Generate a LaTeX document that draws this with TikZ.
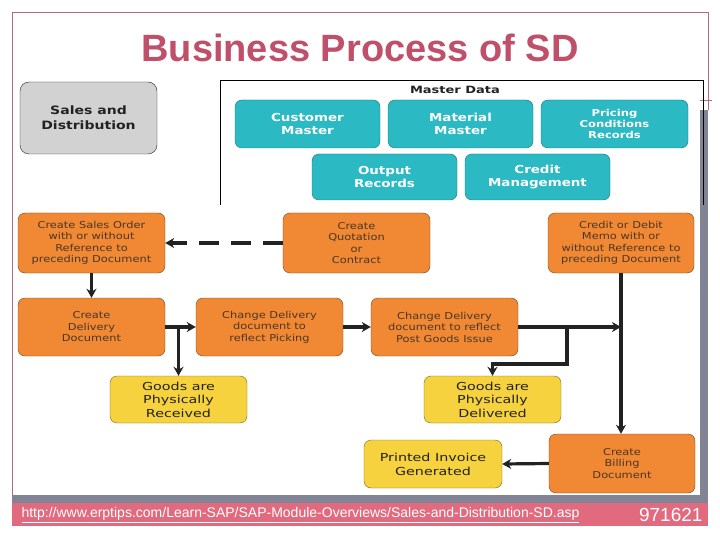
\documentclass[tikz,border=0pt]{standalone}
\usepackage{fontspec}
\setmainfont{DejaVu Sans}
\newfontfamily\arialfont{Liberation Sans}
\newfontfamily\procfont[FakeStretch=1.2]{DejaVu Sans}
\newfontfamily\masterfont[FakeStretch=1.22]{DejaVu Sans}
\newfontfamily\resultfont[FakeStretch=1.3]{DejaVu Sans}
\usetikzlibrary{calc}
\usetikzlibrary{arrows.meta}
\usepackage{xcolor}
\definecolor{sdrose}{RGB}{192,80,105}
\definecolor{sdpink}{RGB}{226,106,126}
\definecolor{sdframe}{RGB}{170,110,130}
\definecolor{sdgray}{RGB}{128,132,148}
\definecolor{sdteal}{RGB}{43,186,196}
\definecolor{sdorange}{RGB}{240,136,52}
\definecolor{sdyellow}{RGB}{246,210,62}
\definecolor{sdbox}{RGB}{210,210,210}
\definecolor{sdink}{RGB}{34,34,34}

\begin{document}
\begin{tikzpicture}[x=1pt, y=-1pt,
  master/.style={draw=sdteal!60!black, fill=sdteal, rounded corners=7pt, minimum width=145pt, minimum height=48pt, align=center, text=white, font=\masterfont\bfseries\fontsize{11}{12.5}\selectfont},
  proc/.style={draw=sdorange!50!black, fill=sdorange, rounded corners=7pt, minimum width=147pt, minimum height=59pt, align=center, text=sdink!80!sdorange, font=\procfont\fontsize{9.5}{11.5}\selectfont},
  result/.style={draw=sdyellow!50!black, fill=sdyellow, rounded corners=7pt, minimum width=137pt, minimum height=47pt, align=center, text=sdink, font=\resultfont\fontsize{11}{13.5}\selectfont},
  flow/.style={sdink, line width=3.2pt, >={Stealth[length=9pt, width=10pt]}}]
\useasboundingbox (0,0) rectangle (720,540);
\fill[white] (0,0) rectangle (720,540);
\draw[sdframe, thin] (12,497) -- (12,12) -- (708,12) -- (708,110);
\draw[sdframe, thin] (700,100) -- (712,100);
\fill[sdgray] (700,110) rectangle (708,503);
\fill[sdgray] (12,495) rectangle (708,503);
\fill[sdpink] (12,503) rectangle (708,526);
\node[text=sdrose, font=\arialfont\bfseries\fontsize{38}{40}\selectfont] (title) at (360,48) {Business Process of SD};
\node[draw=sdink, fill=sdbox, rounded corners=9pt, minimum width=137pt, minimum height=72pt, align=center, font=\masterfont\bfseries\fontsize{11.5}{15}\selectfont, text=sdink] (sd) at (88.5,118) {Sales and\\Distribution};
\draw[black, thin] (220,205) |- (703,80) -- (703,205);
\node[font=\resultfont\bfseries\fontsize{10}{11}\selectfont, text=sdink] (mdata) at (455,90) {Master Data};
\node[master] (cust) at (307.5,124) {Customer\\Master};
\node[master] (mat) at (460.5,124) {Material\\Master};
\node[master, minimum width=147pt, font=\masterfont\bfseries\fontsize{9.5}{11}\selectfont] (pric) at (614.5,124) {Pricing\\Conditions\\Records};
\node[master, minimum height=46pt] (outp) at (384.5,177) {Output\\Records};
\node[master, minimum height=46pt] (cred) at (537.5,177) {Credit\\Management};
\node[proc, minimum height=60pt] (order) at (91.5,243) {Create Sales Order\\with or without\\Reference to\\preceding Document};
\node[proc, minimum height=60pt] (quot) at (356.5,243) {Create\\Quotation\\or\\Contract};
\node[proc, minimum height=60pt, minimum width=146pt] (memo) at (621,243) {Credit or Debit\\Memo with or\\without Reference to\\preceding Document};
\node[proc, minimum height=58pt] (deliv) at (91.5,327) {Create\\Delivery\\Document};
\node[proc, minimum height=58pt] (pick) at (269.5,327) {Change Delivery\\document to\\reflect Picking};
\node[proc, minimum height=58pt] (pgi) at (444.5,327) {Change Delivery\\document to reflect\\Post Goods Issue};
\node[proc, minimum width=146pt] (bill) at (622,463.5) {Create\\Billing\\Document};
\node[result] (recv) at (178.5,399.5) {Goods are\\Physically\\Received};
\node[result] (dlvd) at (492.5,399.5) {Goods are\\Physically\\Delivered};
\node[result, minimum width=138pt, minimum height=48pt, font=\resultfont\fontsize{11}{14}\selectfont] (inv) at (433,464) {Printed Invoice\\Generated};
\coordinate (split) at (567,327);
\draw[flow, ->, dash pattern=on 20pt off 12pt] (quot.west) -- (order.east);
\draw[flow, ->] (order.south) -- (deliv.north);
\draw[flow, ->] (deliv.east) -- (pick.west);
\draw[flow, ->] (pick.east) -- (pgi.west);
\draw[flow, ->] (pgi.east) -- (pgi.east -| memo.south);
\draw[flow, ->] (memo.south) -- (memo.south |- bill.north);
\draw[flow, ->] (recv.north |- deliv.east) -- (recv.north);
\draw[flow, ->] (split) -- ++(0,37) -| (dlvd.north);
\draw[flow, ->] (bill.west) -- (inv.east);
\node[anchor=west, text=white, font=\arialfont\fontsize{14}{16}\selectfont] (url) at (18,515) {\underline{http://www.erptips.com/Learn-SAP/SAP-Module-Overviews/Sales-and-Distribution-SD.asp}};
\node[anchor=east, text=white, font=\arialfont\fontsize{19}{21}\selectfont] (num) at (706,515) {971621};
\end{tikzpicture}
\end{document}
